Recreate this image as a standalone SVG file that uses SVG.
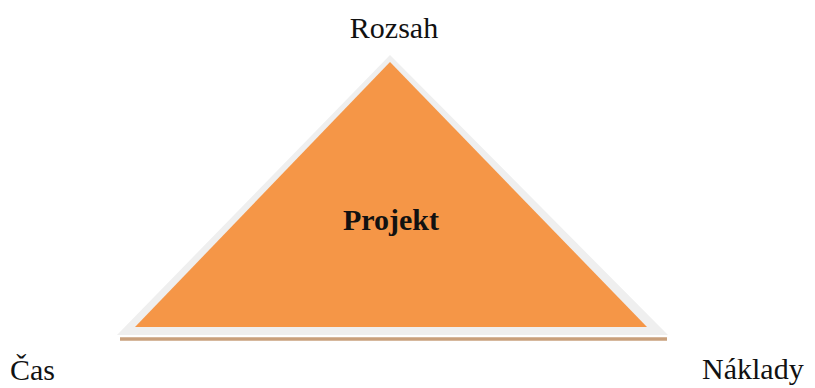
<svg xmlns="http://www.w3.org/2000/svg" width="815" height="388" viewBox="0 0 815 388">
  <style>
    .lbl { font-family: "Liberation Serif", "Times New Roman", serif; font-size: 30px; fill: #111; }
    .bold { font-weight: bold; }
  </style>
  <rect width="815" height="388" fill="#ffffff"/>
  <g id="triangle">
    <line x1="120" y1="339" x2="667" y2="339" stroke="#c9a07c" stroke-width="3.5"/>
    <polygon points="390,55 117,335 668,335" fill="#efefef"/>
    <polygon points="390,62 135,327 647,327" fill="#f59647"/>
    <text class="lbl bold" x="391" y="230" text-anchor="middle">Projekt</text>
  </g>
  <g id="rozsah">
    <text class="lbl" x="394" y="38" text-anchor="middle">Rozsah</text>
  </g>
  <g id="cas">
    <text class="lbl" x="10" y="380">Čas</text>
  </g>
  <g id="naklady">
    <text class="lbl" x="702" y="379">Náklady</text>
  </g>
  <g id="connectors"></g>
</svg>
